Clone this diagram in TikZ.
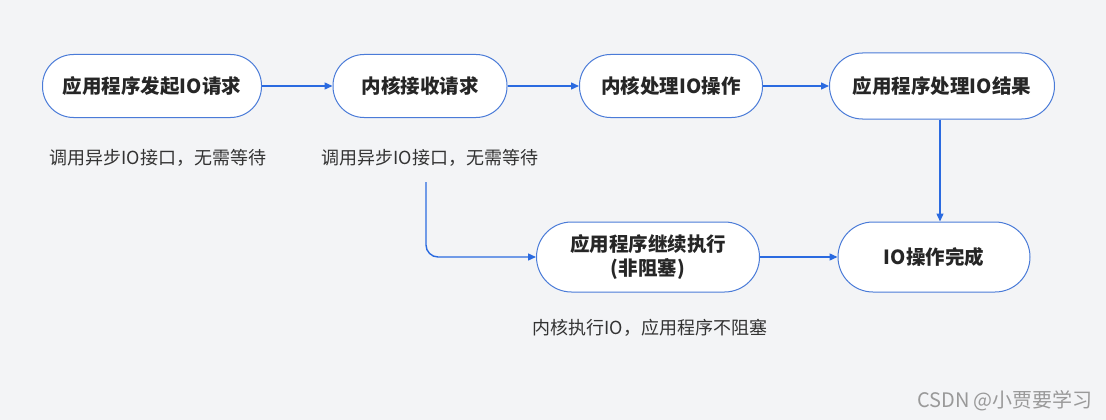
\documentclass[tikz,border=0pt]{standalone}
\usepackage{fontspec}
\setmainfont{Noto Sans CJK SC}
\usetikzlibrary{arrows.meta}
\definecolor{bg}{HTML}{F3F4F6}
\definecolor{bl}{HTML}{2A6AE0}
\definecolor{bd}{HTML}{4A7BD8}
\tikzset{x=1pt,y=-1pt,
 box/.style={draw=bd,line width=1pt,fill=white,rounded corners=31pt,minimum height=63pt,align=center,font=\fontsize{19.5}{24}\selectfont\bfseries,text=black!85},
 lab/.style={font=\fontsize{18}{22}\selectfont,text=black!80},
 arr/.style={draw=bl,line width=1.4pt,-{Triangle[length=8pt,width=7pt]}}}
\begin{document}
\begin{tikzpicture}
\fill[bg] (0,0) rectangle (1106,420);
\useasboundingbox (0,0) rectangle (1106,420);
\node[box,minimum width=219pt] (a) at (152,86) {应用程序发起IO请求};
\node[box,minimum width=174pt] (b) at (420,86) {内核接收请求};
\node[box,minimum width=183pt] (c) at (671,86) {内核处理IO操作};
\node[box,minimum width=225pt,minimum height=66pt,rounded corners=33pt] (d) at (942,86) {应用程序处理IO结果};
\node[box,minimum width=223pt,minimum height=70pt,rounded corners=35pt] (e) at (648,257) {应用程序继续执行\\(非阻塞)};
\node[box,minimum width=192pt,minimum height=70pt,rounded corners=35pt] (f) at (934,257) {IO操作完成};
\node[lab] (la) at (158,158) {调用异步IO接口，无需等待};
\node[lab] (lb) at (430,158) {调用异步IO接口，无需等待};
\node[lab] (le) at (650,328) {内核执行IO，应用程序不阻塞};
\node[font=\fontsize{20}{24}\selectfont,text=black!40] (w) at (1005,401) {CSDN @小贾要学习};
\coordinate (s) at (426,182);
\draw[arr] (a) -- (b);
\draw[arr] (b) -- (c);
\draw[arr] (c) -- (d);
\draw[arr] (d.south -| 940,0) -- (f.north -| 940,0);
\draw[arr] (e) -- (f);
\draw[arr,rounded corners=12pt] (s) |- (e.west);
\end{tikzpicture}
\end{document}
